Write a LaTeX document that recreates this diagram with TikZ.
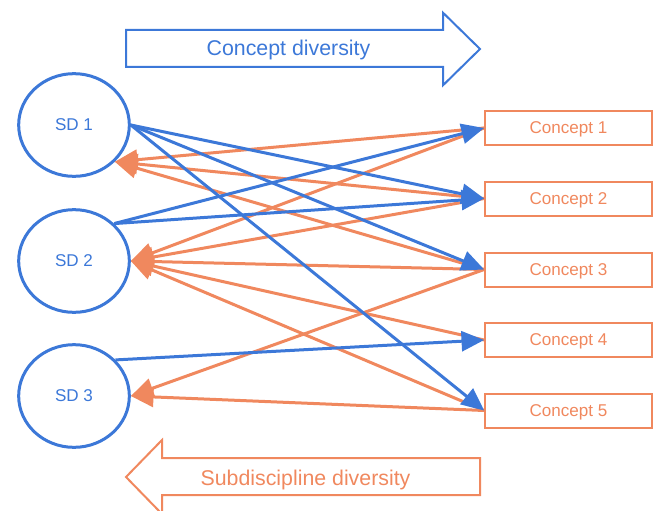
\documentclass[tikz,border=0pt]{standalone}
\usepackage{fontspec}
\setmainfont{Liberation Sans}
\usetikzlibrary{arrows.meta,shapes.geometric}
\definecolor{sdblue}{RGB}{60,120,216}
\definecolor{cporange}{RGB}{240,136,94}

\begin{document}
\begin{tikzpicture}[x=0.75pt,y=0.75pt,yscale=-1,xscale=1,
  sdnode/.style={ellipse,draw=sdblue,line width=2.25pt,minimum width=83pt,minimum height=77pt,inner sep=0pt,text depth=0pt,text=sdblue,font=\fontsize{12.8}{15}\selectfont},
  cpnode/.style={rectangle,draw=cporange,line width=1.5pt,minimum width=125pt,minimum height=25.5pt,inner sep=0pt,text depth=0pt,text=cporange,font=\fontsize{12.8}{15}\selectfont},
  bluelink/.style={draw=sdblue,line width=2.25pt,-{Triangle[length=17pt,width=15pt]}},
  orangelink/.style={draw=cporange,line width=2.25pt,-{Triangle[length=17pt,width=15pt]}},
  bigarrow/.style={line width=1.5pt,line join=miter}]
\useasboundingbox (0,0) rectangle (656,510);

%Shape: Ellipse
\node [sdnode] (sd1) at (74,125) {SD 1};
\node [sdnode] (sd2) at (74,261) {SD 2};
\node [sdnode] (sd3) at (74,396) {SD 3};

%Shape: Rectangle
\node [cpnode] (c1) at (568.5,128) {Concept 1};
\node [cpnode] (c2) at (568.5,198.5) {Concept 2};
\node [cpnode] (c3) at (568.5,269.5) {Concept 3};
\node [cpnode] (c4) at (568.5,340) {Concept 4};
\node [cpnode] (c5) at (568.5,410.5) {Concept 5};

%Shape: Right Arrow
\draw [bigarrow,draw=sdblue] (126,30) -- (443,30) -- (443,12.7) -- (480,49) -- (443,85.3) -- (443,67) -- (126,67) -- cycle ;
% Text Node
\node [anchor=base,inner sep=0pt,text=sdblue,font=\fontsize{16}{19}\selectfont] (cdiv) at (288.5,55.7) {Concept diversity};

%Shape: Left Arrow
\draw [bigarrow,draw=cporange] (480,458) -- (162,458) -- (162,440) -- (126,477) -- (162,514) -- (162,495) -- (480,495) -- cycle ;
% Text Node
\node [anchor=base,inner sep=0pt,text=cporange,font=\fontsize{16}{19}\selectfont] (sdiv) at (305.5,485) {Subdiscipline diversity};

%Straight Lines
\foreach \c in {1,2,3} \draw [orangelink] (c\c.west) -- (sd1.-42);
\foreach \c in {1,2,3,4,5} \draw [orangelink] (c\c.west) -- (sd2.east);
\foreach \c in {3,5} \draw [orangelink] (c\c.west) -- (sd3.east);

\foreach \c in {2,3,5} \draw [bluelink] (sd1.east) -- (c\c.west);
\foreach \c in {1,2} \draw [bluelink] (sd2.43) -- (c\c.west);
\draw [bluelink] (sd3.41) -- (c4.west);

\end{tikzpicture}
\end{document}
